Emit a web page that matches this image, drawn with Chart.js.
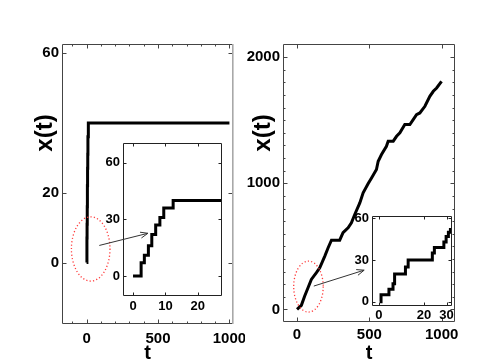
<!DOCTYPE html>
<html><head><meta charset="utf-8">
<script src="https://cdn.jsdelivr.net/npm/chart.js@4/dist/chart.umd.min.js"></script>
<style>
html,body{margin:0;padding:0;background:#fff;}
#wrap{position:relative;width:491px;height:359px;overflow:hidden;background:#fff;}
canvas{position:absolute;}
</style></head><body>
<div id="wrap">
<canvas id="cL" width="245" height="359" style="left:0px;top:0px;width:245px;height:359px"></canvas>
<canvas id="cR" width="246" height="359" style="left:245px;top:0px;width:246px;height:359px"></canvas>
<canvas id="cLi" width="140" height="180" style="left:93px;top:135px;width:140px;height:180px"></canvas>
<canvas id="cRi" width="146" height="125" style="left:345px;top:205px;width:146px;height:125px"></canvas>
<canvas id="ov" width="491" height="359" style="left:0;top:0;width:491px;height:359px;pointer-events:none"></canvas>
</div>
<script>
// ---------------- data ----------------
// left panel: x(t) jumps (time of jump, new value)
const leftTimes = [0, 2.5, 3.5, 4.75, 5.8, 7.0, 8.3, 9.5, 12.4, 1000];
const leftPositions = [0, 7, 11, 16, 22, 27, 31, 36, 40, 40];
// right panel: trajectory samples
const rightTimes = [0, 30, 53, 76, 99, 134, 157, 192, 215, 238, 295, 318, 353, 376, 399, 434, 457, 492, 515, 549, 561, 584, 618, 630, 665, 688, 711, 745, 780, 803, 826, 849, 884, 918, 942, 965, 999];
const rightPositions = [0, 32, 106, 172, 238, 291, 330, 423, 489, 549, 549, 608, 647, 687, 753, 845, 924, 998, 1043, 1109, 1175, 1228, 1294, 1334, 1334, 1373, 1400, 1466, 1466, 1505, 1545, 1558, 1611, 1690, 1730, 1756, 1809];
// right inset: early-time jumps
const rightZoomTimes = [0.5, 1, 4.5, 6.3, 7, 11.8, 13, 23.7, 24.6, 28.8, 29.8, 30.8, 31.7];
const rightZoomPositions = [0, 5, 9, 13, 20, 25, 30, 35, 39, 43, 47, 50, 53];

// tick values and labelled ticks
const leftXTicks = [-100, 0, 100, 200, 300, 400, 500, 600, 700, 800, 900, 1000];
const leftXLabels = [0, 500, 1000];
const leftYTicks = [0, 20, 60];
const leftYLabels = [0, 20, 60];
const rightXTicks = [0, 500, 1000];
const rightXLabels = [0, 500, 1000];
const rightYTicks = [0,100,200,300,400,500,600,700,800,900,1000,1100,1200,1300,1400,1500,1600,1700,1800,1900,2000];
const rightYLabels = [0, 1000, 2000];
const leftInsetXTicks = [0, 10, 20];
const leftInsetYTicks = [0, 30, 60];
const rightInsetXTicks = [0, 20, 30];
const rightInsetYTicks = [0, 30, 60];

const yTitle = 'x(t)';
const xTitle = 't';

// ---------------- helpers ----------------
const FONT = "'Liberation Sans', Arial, Helvetica, sans-serif";
function pts(xs, ys) { return xs.map((x, i) => ({x: x, y: ys[i]})); }

const boxTicks = {
  id: 'boxTicks',
  beforeDraw(chart, args, o) {
    if (!o.fill) return;
    const a = chart.chartArea, ctx = chart.ctx;
    ctx.save(); ctx.fillStyle = '#fff';
    ctx.fillRect(a.left, a.top, a.right - a.left, a.bottom - a.top);
    ctx.restore();
  },
  afterDraw(chart, args, o) {
    const a = chart.chartArea, ctx = chart.ctx;
    const L = Math.round(a.left) + 0.5, R = Math.round(a.right) - 0.5;
    const T = Math.round(a.top) + 0.5, B = Math.round(a.bottom) - 0.5;
    ctx.save();
    ctx.strokeStyle = o.color || '#444';
    ctx.lineWidth = 1;
    ctx.beginPath();
    const ln = (x1, y1, x2, y2) => { ctx.moveTo(x1, y1); ctx.lineTo(x2, y2); };
    ['x', 'y'].forEach(id => {
      const s = chart.scales[id];
      s.ticks.forEach(t => {
        const len = t.label !== '' ? (o.major || 4) : (o.minor || 2);
        const p = Math.round(s.getPixelForValue(t.value)) + 0.5;
        if (id === 'x') { ln(p, B, p, B - len); ln(p, T, p, T + len); }
        else { ln(L, p, L + len, p); ln(R, p, R - len, p); }
      });
    });
    ctx.stroke();
    ctx.beginPath();
    ctx.moveTo(R, B); ctx.lineTo(L, B); ctx.lineTo(L, T); ctx.lineTo(R, T);
    if (!o.rightColor) ctx.lineTo(R, B);
    ctx.stroke();
    if (o.rightColor) {
      ctx.strokeStyle = o.rightColor;
      ctx.lineWidth = 1.6;
      ctx.beginPath(); ctx.moveTo(R + 0.3, T - 0.5); ctx.lineTo(R + 0.3, B + 0.5); ctx.stroke();
    }
    ctx.restore();
  }
};

const yTitlePlugin = {
  id: 'yTitleText',
  afterDraw(chart, args, o) {
    if (!o.text) return;
    const a = chart.chartArea, ctx = chart.ctx;
    ctx.save();
    ctx.translate(a.left + o.dx, o.y);
    ctx.rotate(-Math.PI / 2);
    ctx.font = 'bold ' + o.size + 'px ' + FONT;
    ctx.fillStyle = '#000';
    ctx.textAlign = 'center';
    ctx.textBaseline = 'middle';
    ctx.fillText(o.text, 0, 0);
    ctx.restore();
  }
};

const ellipsePlugin = {
  id: 'dotEllipse',
  afterDatasetsDraw(chart, args, o) {
    if (!o.cx && o.cx !== 0) return;
    const xs = chart.scales.x, ys = chart.scales.y, ctx = chart.ctx;
    const cx = xs.getPixelForValue(o.cx), cy = ys.getPixelForValue(o.cy);
    const rx = Math.abs(xs.getPixelForValue(o.cx + o.rx) - cx);
    const ry = Math.abs(ys.getPixelForValue(o.cy + o.ry) - cy);
    ctx.save();
    ctx.strokeStyle = '#ff3b3b';
    ctx.lineWidth = 1.3;
    ctx.setLineDash([1.2, 2.2]);
    ctx.beginPath();
    ctx.ellipse(cx, cy, rx, ry, 0, 0, Math.PI * 2);
    ctx.stroke();
    ctx.restore();
  }
};

function linScale(min, max, ticks, labels, size, pad, fitW, fitH, isX, title) {
  const sc = {
    type: 'linear', min: min, max: max,
    grid: {display: false, drawTicks: false, tickLength: 0}, border: {display: false},
    afterBuildTicks: s => { s.ticks = ticks.map(v => ({value: v})); },
    ticks: {
      autoSkip: false, maxRotation: 0, minRotation: 0, padding: pad,
      color: '#000', font: {family: FONT, size: size, weight: 'bold'},
      callback: v => labels.includes(v) ? String(v) : ''
    },
    afterFit: s => {
      if (isX) s.height = fitH; else s.width = fitW;
      s.paddingLeft = 0; s.paddingRight = 0; s.paddingTop = 0; s.paddingBottom = 0;
    }
  };
  if (title) sc.title = title;
  return sc;
}

function lineDataset(xs, ys, stepped) {
  return {
    data: pts(xs, ys), borderColor: '#000', borderWidth: 3,
    pointRadius: 0, tension: 0, stepped: stepped, fill: false
  };
}

function makeChart(canvasId, cfg) {
  return new Chart(document.getElementById(canvasId), {
    type: 'line',
    data: {datasets: [lineDataset(cfg.xs, cfg.ys, cfg.stepped)]},
    options: {
      responsive: false, animation: false, devicePixelRatio: 1,
      events: [],
      layout: {padding: cfg.padding},
      plugins: {
        legend: {display: false}, tooltip: {enabled: false},
        boxTicks: cfg.box, yTitleText: cfg.yTitle || {}, dotEllipse: cfg.ellipse || {}
      },
      scales: {x: cfg.x, y: cfg.y}
    },
    plugins: [boxTicks, yTitlePlugin, ellipsePlugin]
  });
}

const xTitleCfg = {display: true, text: xTitle, color: '#000',
  font: {family: FONT, size: 20, weight: 'bold'}, padding: {top: 0, bottom: -6}};

// ---------------- charts ----------------
const chL = makeChart('cL', {
  xs: leftTimes, ys: leftPositions, stepped: true,
  padding: {left: 0, top: 44, right: 12, bottom: 0},
  x: linScale(-172, 1025, leftXTicks, leftXLabels, 15, 6, 0, 35, true, xTitleCfg),
  y: linScale(-17.6, 62.6, leftYTicks, leftYLabels, 15, 3, 62, 0, false),
  box: {major: 4, minor: 2, color: '#444', rightColor: '#a8a8a8'},
  yTitle: {text: yTitle, dx: -17, y: 133, size: 24},
  ellipse: {cx: 29, cy: 3.9, rx: 135, ry: 9.2}
});

const chR = makeChart('cR', {
  xs: rightTimes, ys: rightPositions, stepped: false,
  padding: {left: 0, top: 44, right: 36, bottom: 0},
  x: linScale(-97, 1092, rightXTicks, rightXLabels, 15, 4, 0, 37, true, xTitleCfg),
  y: linScale(-100, 2105, rightYTicks, rightYLabels, 15, 3, 38, 0, false),
  box: {major: 4, minor: 2, color: '#444'},
  yTitle: {text: yTitle, dx: -20, y: 133, size: 24},
  ellipse: {cx: 79, cy: 181, rx: 102, ry: 202}
});

const chLi = makeChart('cLi', {
  xs: leftTimes, ys: leftPositions, stepped: true,
  padding: {left: 0, top: 8, right: 11, bottom: 0},
  x: linScale(-3.1, 27.5, leftInsetXTicks, leftInsetXTicks, 13, 3, 0, 19, true),
  y: linScale(-10.6, 70.4, leftInsetYTicks, leftInsetYTicks, 13, 3, 30, 0, false),
  box: {major: 3, minor: 2, color: '#222', fill: true}
});

const chRi = makeChart('cRi', {
  xs: rightZoomTimes, ys: rightZoomPositions, stepped: true,
  padding: {left: 0, top: 11, right: 39, bottom: 0},
  x: linScale(-3, 32.4, rightInsetXTicks, rightInsetXTicks, 13, 2, 0, 24, true),
  y: linScale(-3.1, 61.7, rightInsetYTicks, rightInsetYTicks, 13, 3, 27, 0, false),
  box: {major: 3, minor: 2, color: '#222', fill: true}
});

// ---------------- overlay arrows ----------------
function pagePt(chart, x, y) {
  const c = chart.canvas;
  return [c.offsetLeft + chart.scales.x.getPixelForValue(x), c.offsetTop + chart.scales.y.getPixelForValue(y)];
}
function arrow(ctx, p0, p1) {
  const ang = Math.atan2(p1[1] - p0[1], p1[0] - p0[0]);
  const hl = 8, ha = 0.38;
  ctx.beginPath();
  ctx.moveTo(p0[0], p0[1]); ctx.lineTo(p1[0], p1[1]);
  ctx.moveTo(p1[0] - hl * Math.cos(ang - ha), p1[1] - hl * Math.sin(ang - ha));
  ctx.lineTo(p1[0], p1[1]);
  ctx.lineTo(p1[0] - hl * Math.cos(ang + ha), p1[1] - hl * Math.sin(ang + ha));
  ctx.stroke();
}
const ov = document.getElementById('ov').getContext('2d');
ov.strokeStyle = '#333';
ov.lineWidth = 1;
arrow(ov, pagePt(chL, 89, 4.9), pagePt(chLi, 4.6, 22.6));
arrow(ov, pagePt(chR, 116, 185), pagePt(chR, 464, 311));
</script>
</body></html>
